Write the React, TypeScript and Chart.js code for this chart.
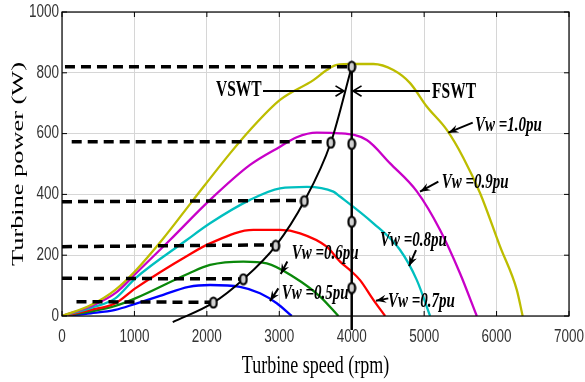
import React, { useEffect, useRef } from "react";
import { Chart, registerables } from "chart.js";

Chart.register(...registerables);

// ---------- data ----------
const xTickValues = [0, 1000, 2000, 3000, 4000, 5000, 6000, 7000];
const yTickValues = [0, 200, 400, 600, 800, 1000];

const vw10Speed = [0, 400, 736, 1012, 1381, 1813, 2320, 2596, 3010, 3471, 3655, 3793, 4023, 4299, 4575, 4806, 5036, 5313, 5542, 5773, 6049, 6279, 6360];
const vw10Power = [0, 36, 86, 148, 250, 382, 535, 612, 711, 776, 809, 826, 829, 829, 809, 766, 689, 612, 520, 404, 228, 86, 0];

const vw09Speed = [0, 400, 736, 1012, 1491, 2044, 2596, 3010, 3241, 3517, 3839, 4208, 4530, 4899, 5220, 5496, 5727];
const vw09Power = [0, 32, 75, 138, 250, 382, 497, 557, 588, 603, 601, 579, 502, 410, 283, 140, 0];

const vw08Speed = [0, 400, 736, 1012, 1722, 2044, 2596, 3010, 3379, 3747, 3839, 4299, 4668, 4899, 5082];
const vw08Power = [0, 27, 58, 124, 250, 305, 382, 420, 425, 409, 393, 305, 217, 118, 0];

const vw07Speed = [0, 400, 736, 1012, 1749, 2044, 2642, 3011, 3287, 3655, 3839, 3977, 4115, 4299, 4461];
const vw07Power = [0, 20, 42, 91, 201, 239, 283, 283, 272, 228, 179, 151, 118, 53, 0];

const vw06Speed = [0, 400, 736, 1012, 1749, 2044, 2504, 2827, 3194, 3563, 3816];
const vw06Power = [0, 15, 33, 58, 140, 168, 179, 173, 129, 64, 0];

const vw05Speed = [0, 400, 736, 1012, 1353, 1749, 2044, 2458, 2734, 2965, 3172];
const vw05Power = [0, 9, 20, 40, 66, 96, 102, 96, 75, 42, 0];

const vswtSpeed = [1529, 2090, 2504, 2951, 3346, 3711, 4000];
const vswtPower = [-20, 44, 121, 231, 378, 570, 820];

const fswtSpeed = [4000, 4000, 4000, 4000, 4000];
const fswtPower = [-46, 92, 310, 566, 820];

// dashed reference lines
const refStartSpeed = [41, 134, 0, 0, 0, 200];
const refEndSpeed = [4000, 3711, 3346, 2951, 2504, 2090];
const refStartPower = [820, 573, 376, 228, 124, 47];
const refEndPower = [820, 573, 380, 234, 122, 45];

const seriesNames = ["Vw =1.0pu", "Vw =0.9pu", "Vw =0.8pu", "Vw =0.7pu", "Vw =0.6pu", "Vw =0.5pu"];
const seriesColors = ["#BDBD00", "#C800C8", "#00BFBF", "#FF0000", "#0A880A", "#0000FF"];

// annotation texts and anchors (data coords)
const noteTexts = ["VSWT", "FSWT", "Vw =1.0pu", "Vw =0.9pu", "Vw =0.8pu", "Vw =0.7pu", "Vw =0.6pu", "Vw =0.5pu"];
const noteX = [2126, 5109, 5702, 5243, 4391, 4501, 3171, 3033];
const noteY = [743, 737, 628, 438, 250, 47, 207, 75];
const arrowFromX = [2775, 5081, 5671, 5196, 4888, 4505, 3111, 2987];
const arrowFromY = [740, 740, 636, 442, 217, 58, 179, 91];
const arrowToX = [3894, 4018, 5334, 4943, 4791, 4335, 3020, 2872];
const arrowToY = [740, 740, 603, 409, 164, 50, 138, 49];

const zip = (xs: number[], ys: number[]) => xs.map((x, i) => ({ x, y: ys[i] }));

function drawText(ctx: CanvasRenderingContext2D, text: string, x: number, y: number, font: string, sx: number, sy: number, align: CanvasTextAlign, baseline: CanvasTextBaseline, rot = 0) {
  ctx.save();
  ctx.translate(x, y);
  if (rot) ctx.rotate(rot);
  ctx.scale(sx, sy);
  ctx.font = font;
  ctx.textAlign = align;
  ctx.textBaseline = baseline;
  ctx.fillText(text, 0, 0);
  ctx.restore();
}

function makeMarker(): HTMLCanvasElement {
  const c = document.createElement("canvas");
  c.width = 10;
  c.height = 13;
  const g = c.getContext("2d")!;
  g.beginPath();
  g.ellipse(5, 6.5, 3.4, 5, 0, 0, Math.PI * 2);
  g.fillStyle = "#d0d0d0";
  g.fill();
  g.lineWidth = 2.2;
  g.strokeStyle = "#000";
  g.stroke();
  return c;
}

const decorPlugin = {
  id: "decor",
  afterDraw(chart: any) {
    const ctx: CanvasRenderingContext2D = chart.ctx;
    const xs = chart.scales.x;
    const ys = chart.scales.y;
    const a = chart.chartArea;
    ctx.save();
    ctx.strokeStyle = "#000";
    ctx.lineWidth = 1.2;
    ctx.strokeRect(a.left, a.top, a.right - a.left, a.bottom - a.top);
    ctx.lineWidth = 1;
    ctx.beginPath();
    xTickValues.forEach((v) => {
      const px = xs.getPixelForValue(v);
      ctx.moveTo(px, a.bottom); ctx.lineTo(px, a.bottom - 5);
      ctx.moveTo(px, a.top); ctx.lineTo(px, a.top + 5);
    });
    yTickValues.forEach((v) => {
      const py = ys.getPixelForValue(v);
      ctx.moveTo(a.left, py); ctx.lineTo(a.left + 5, py);
      ctx.moveTo(a.right, py); ctx.lineTo(a.right - 5, py);
    });
    ctx.stroke();
    ctx.fillStyle = "#333";
    const tickFont = "13.5px 'Liberation Sans', Arial, sans-serif";
    xTickValues.forEach((v) => {
      drawText(ctx, String(v), xs.getPixelForValue(v), a.bottom + 21, tickFont, 1, 1.31, "center", "middle");
    });
    yTickValues.forEach((v) => {
      drawText(ctx, String(v), a.left - 3, ys.getPixelForValue(v), tickFont, 1, 1.31, "right", "middle");
    });
    ctx.fillStyle = "#000";
    const titleFont = "18px 'Liberation Serif', 'Times New Roman', serif";
    drawText(ctx, "Turbine speed (rpm)", (a.left + a.right) / 2, 366, titleFont, 1, 1.42, "center", "middle");
    drawText(ctx, "Turbine power (W)", 19, (a.top + a.bottom) / 2, "17px 'Liberation Serif', 'Times New Roman', serif", 1.55, 1, "center", "middle", -Math.PI / 2);

    ctx.strokeStyle = "#000";
    ctx.fillStyle = "#000";
    for (let i = 0; i < noteTexts.length; i++) {
      const x1 = xs.getPixelForValue(arrowFromX[i]);
      const y1 = ys.getPixelForValue(arrowFromY[i]);
      const x2 = xs.getPixelForValue(arrowToX[i]);
      const y2 = ys.getPixelForValue(arrowToY[i]);
      const ang = Math.atan2(y2 - y1, x2 - x1);
      ctx.lineWidth = 2;
      ctx.beginPath();
      ctx.moveTo(x1, y1);
      ctx.lineTo(x2, y2);
      ctx.stroke();
      if (i < 2) {
        const L = 10, w = 0.55;
        ctx.beginPath();
        ctx.moveTo(x2 - L * Math.cos(ang - w), y2 - L * Math.sin(ang - w));
        ctx.lineTo(x2, y2);
        ctx.lineTo(x2 - L * Math.cos(ang + w), y2 - L * Math.sin(ang + w));
        ctx.lineWidth = 1.6;
        ctx.stroke();
      } else {
        const L = 11, w = 0.38;
        ctx.beginPath();
        ctx.moveTo(x2, y2);
        ctx.lineTo(x2 - L * Math.cos(ang - w), y2 - L * Math.sin(ang - w));
        ctx.lineTo(x2 - 0.6 * L * Math.cos(ang), y2 - 0.6 * L * Math.sin(ang));
        ctx.lineTo(x2 - L * Math.cos(ang + w), y2 - L * Math.sin(ang + w));
        ctx.closePath();
        ctx.fill();
      }
    }
    for (let i = 0; i < noteTexts.length; i++) {
      const px = xs.getPixelForValue(noteX[i]);
      const py = ys.getPixelForValue(noteY[i]);
      const font = i < 2
        ? "bold 15.5px 'Liberation Serif', 'Times New Roman', serif"
        : "italic bold 15px 'Liberation Serif', 'Times New Roman', serif";
      drawText(ctx, noteTexts[i], px, py, font, 1, 1.45, "left", "middle");
    }
    ctx.restore();
  },
};

export default function App() {
  const ref = useRef<HTMLCanvasElement | null>(null);
  useEffect(() => {
    if (!ref.current) return;
    const marker = makeMarker();
    const datasets: any[] = [];
    const curveSpeeds = [vw10Speed, vw09Speed, vw08Speed, vw07Speed, vw06Speed, vw05Speed];
    const curvePowers = [vw10Power, vw09Power, vw08Power, vw07Power, vw06Power, vw05Power];
    curveSpeeds.forEach((sp, i) => {
      datasets.push({
        label: seriesNames[i],
        data: zip(sp, curvePowers[i]),
        borderColor: seriesColors[i],
        borderWidth: 2.3,
        pointRadius: 0,
        cubicInterpolationMode: "monotone",
        order: 3,
      });
    });
    refStartSpeed.forEach((s, i) => {
      datasets.push({
        label: "ref" + i,
        data: [{ x: s, y: refStartPower[i] }, { x: refEndSpeed[i], y: refEndPower[i] }],
        borderColor: "#000",
        borderWidth: 3.5,
        borderDash: [10, 6],
        pointRadius: 0,
        order: 1,
      });
    });
    datasets.push({
      label: "VSWT",
      data: zip(vswtSpeed, vswtPower),
      borderColor: "#000",
      borderWidth: 2,
      cubicInterpolationMode: "monotone",
      pointRadius: [0, 5, 5, 5, 5, 5, 5],
      pointStyle: marker,
      clip: 30,
      order: 0,
    });
    datasets.push({
      label: "FSWT",
      data: zip(fswtSpeed, fswtPower),
      borderColor: "#000",
      borderWidth: 2.5,
      pointRadius: [0, 5, 5, 5, 0],
      pointStyle: marker,
      clip: 30,
      order: 0,
    });

    const chart = new Chart(ref.current, {
      type: "line",
      data: { datasets },
      options: {
        animation: false,
        responsive: false,
        layout: { padding: { top: 12, right: 16, left: 0, bottom: 0 } },
        plugins: { legend: { display: false }, tooltip: { enabled: false } },
        scales: {
          x: {
            type: "linear",
            min: 0,
            max: 7000,
            afterFit: (s: any) => { s.height = 66; },
            ticks: { display: false, stepSize: 1000 },
            grid: { color: "#d6d6d6", lineWidth: 1, drawTicks: false },
            border: { display: false },
          },
          y: {
            type: "linear",
            min: 0,
            max: 1000,
            afterFit: (s: any) => { s.width = 62; },
            ticks: { display: false, stepSize: 200 },
            grid: { color: "#d6d6d6", lineWidth: 1, drawTicks: false },
            border: { display: false },
          },
        },
      } as any,
      plugins: [decorPlugin],
    });
    return () => chart.destroy();
  }, []);
  return (
    <div style={{ position: "absolute", left: 0, top: 0, width: 585, height: 382, background: "#fff" }}>
      <canvas ref={ref} width={585} height={382} style={{ display: "block" }} />
    </div>
  );
}
